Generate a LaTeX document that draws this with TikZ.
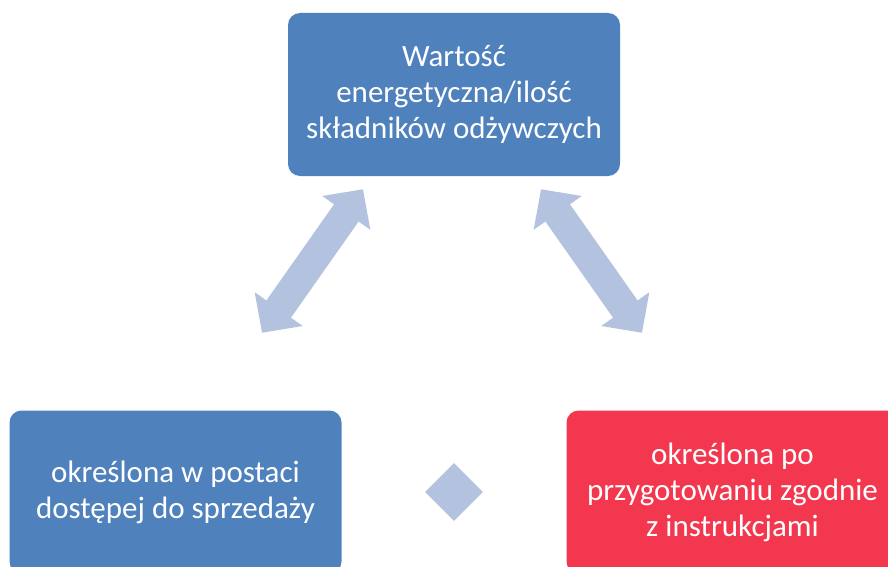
\documentclass[tikz,border=0pt]{standalone}
\usepackage{fontspec}
\setmainfont{Carlito}
\usetikzlibrary{positioning,shapes.geometric,arrows.meta,calc}
\definecolor{boxblue}{HTML}{4F81BD}
\definecolor{boxred}{HTML}{F2374E}
\definecolor{linkblue}{HTML}{B3C2DE}
\begin{document}
\begin{tikzpicture}[x=1pt,y=-1pt,on grid,node distance=397.5pt and 278.5pt,
  box/.style={rectangle,rounded corners=12pt,fill=boxblue,text=white,minimum width=332pt,minimum height=163pt,inner sep=0pt,align=center,font=\fontsize{31}{36}\selectfont},
  link/.style={linkblue,line width=30pt,{Triangle[width=57pt,length=29pt]}-{Triangle[width=57pt,length=29pt]}}]
  \useasboundingbox (0,0) rectangle (888,567);
  \node [box] (value) at (454,94.5) {Wartość\\energetyczna/ilość\\składników odżywczych};
  \node [box] (sale) [below left=of value] {określona w postaci\\dostępej do sprzedaży};
  \node [box,fill=boxred] (cooked) [below right=of value] {określona po\\przygotowaniu zgodnie\\z instrukcjami};
  \node [diamond,fill=linkblue,minimum size=58pt,inner sep=0pt] (mark) at ($(sale)!0.5!(cooked)$) {};
  \coordinate (l1) at ($(value.south)+(-91,13)$);
  \coordinate (l2) at ($(sale.north)+(86.5,-77.5)$);
  \coordinate (r1) at ($(value.south)+(87,13)$);
  \coordinate (r2) at ($(cooked.north)+(-90.5,-77.5)$);
  \draw [link] (l2) -- (l1);
  \draw [link] (r1) -- (r2);
\end{tikzpicture}
\end{document}
